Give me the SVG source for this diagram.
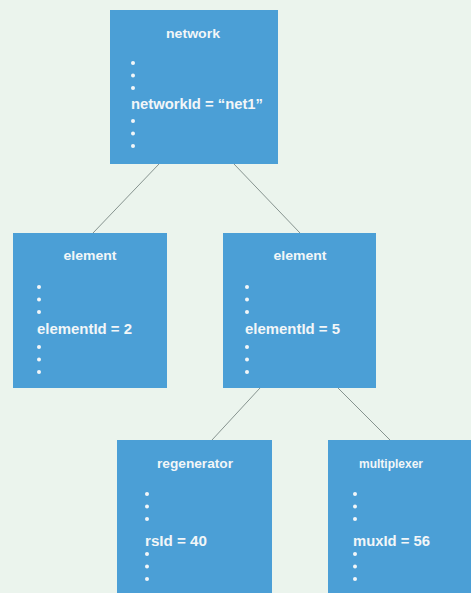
<svg xmlns="http://www.w3.org/2000/svg" width="471" height="593" viewBox="0 0 471 593">
<style>
.box{fill:#4b9fd6}
.t{font-family:"Liberation Sans",Arial,sans-serif;font-weight:bold;fill:#f2f6f8}
.title{font-size:13px;text-anchor:middle}
.val{font-size:14px}
.dot{fill:#f2f6f8}
.con{stroke:#86938f;stroke-width:1;fill:none}
</style>
<defs>
<g id="dots3"><circle cx="0" cy="0" r="2" class="dot"/><circle cx="0" cy="12.5" r="2" class="dot"/><circle cx="0" cy="25" r="2" class="dot"/></g>
</defs>
<rect width="471" height="593" fill="#ebf4ed"/>
<g id="connectors">
<line class="con" x1="159" y1="164" x2="93" y2="233"/>
<line class="con" x1="234" y1="164" x2="300" y2="233"/>
<line class="con" x1="260" y1="388" x2="212" y2="440"/>
<line class="con" x1="338" y1="388" x2="390" y2="440"/>
</g>
<g id="network">
<rect class="box" x="110" y="10" width="168" height="154"/>
<text class="t title" x="193" y="38" textLength="54" lengthAdjust="spacingAndGlyphs">network</text>
<use href="#dots3" x="133" y="63"/>
<text class="t val" x="131" y="109" textLength="132" lengthAdjust="spacingAndGlyphs">networkId = “net1”</text>
<use href="#dots3" x="133" y="121"/>
</g>
<g id="element2">
<rect class="box" x="13" y="233" width="154" height="155"/>
<text class="t title" x="90" y="260" textLength="53" lengthAdjust="spacingAndGlyphs">element</text>
<use href="#dots3" x="39" y="287"/>
<text class="t val" x="37" y="334" textLength="95" lengthAdjust="spacingAndGlyphs">elementId = 2</text>
<use href="#dots3" x="39" y="347"/>
</g>
<g id="element5">
<rect class="box" x="223" y="233" width="153" height="155"/>
<text class="t title" x="300" y="260" textLength="53" lengthAdjust="spacingAndGlyphs">element</text>
<use href="#dots3" x="247" y="287"/>
<text class="t val" x="245" y="334" textLength="95" lengthAdjust="spacingAndGlyphs">elementId = 5</text>
<use href="#dots3" x="247" y="347"/>
</g>
<g id="regenerator">
<rect class="box" x="117" y="440" width="155" height="160"/>
<text class="t title" x="195" y="468" textLength="76" lengthAdjust="spacingAndGlyphs">regenerator</text>
<use href="#dots3" x="147" y="494"/>
<text class="t val" x="145" y="546" textLength="62" lengthAdjust="spacingAndGlyphs">rsId = 40</text>
<use href="#dots3" x="147" y="554"/>
</g>
<g id="multiplexer">
<rect class="box" x="328" y="440" width="143" height="160"/>
<text class="t title" x="391" y="468" textLength="64" lengthAdjust="spacingAndGlyphs">multiplexer</text>
<use href="#dots3" x="355" y="494"/>
<text class="t val" x="353" y="546" textLength="77" lengthAdjust="spacingAndGlyphs">muxId = 56</text>
<use href="#dots3" x="355" y="554"/>
</g>
</svg>
